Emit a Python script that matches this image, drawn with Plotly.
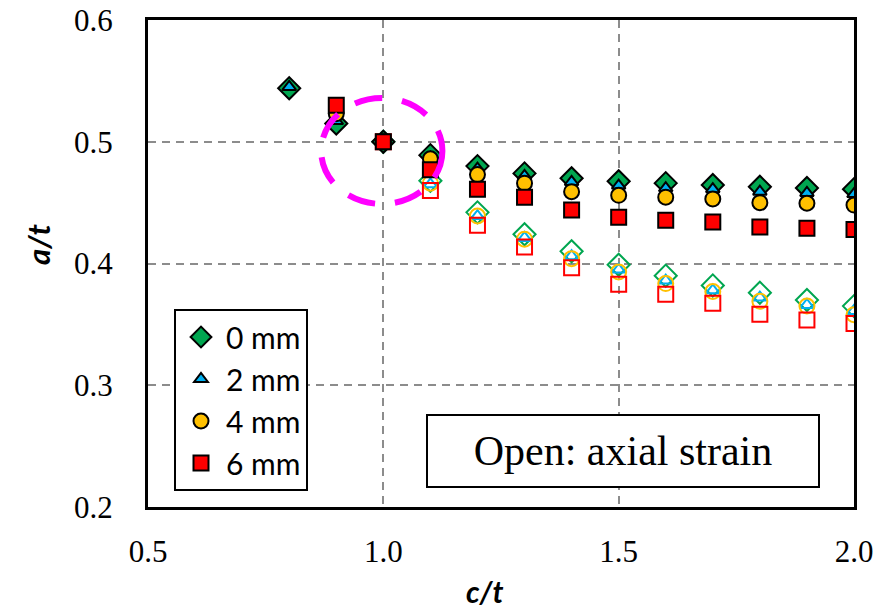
import plotly.graph_objects as go

# ---- data ----
ct_filled = [0.8, 0.9, 1.0, 1.1, 1.2, 1.3, 1.4, 1.5, 1.6, 1.7, 1.8, 1.9, 2.0]
at_0mm = [0.544, 0.515, 0.500, 0.489, 0.480, 0.474, 0.470, 0.4675, 0.466, 0.4645, 0.463, 0.462, 0.461]
at_2mm = [0.545, 0.517, 0.500, 0.487, 0.478, 0.472, 0.467, 0.464, 0.462, 0.461, 0.459, 0.458, 0.457]
at_4mm = [None, 0.523, 0.500, 0.486, 0.473, 0.466, 0.459, 0.456, 0.4545, 0.453, 0.450, 0.4495, 0.448]
at_6mm = [None, 0.530, 0.500, 0.477, 0.461, 0.4545, 0.444, 0.438, 0.4355, 0.434, 0.430, 0.429, 0.428]

ct_open = [1.0, 1.1, 1.2, 1.3, 1.4, 1.5, 1.6, 1.7, 1.8, 1.9, 2.0]
open_0mm = [0.500, 0.468, 0.442, 0.424, 0.410, 0.399, 0.390, 0.382, 0.376, 0.370, 0.365]
open_2mm = [0.500, 0.465, 0.439, 0.421, 0.406, 0.395, 0.386, 0.378, 0.372, 0.366, 0.361]
open_4mm = [0.500, 0.466, 0.439, 0.420, 0.404, 0.393, 0.3835, 0.377, 0.369, 0.365, 0.358]
open_6mm = [0.500, 0.460, 0.4315, 0.4135, 0.3966, 0.383, 0.3748, 0.3674, 0.3584, 0.3535, 0.3508]

series_names = ["0 mm", "2 mm", "4 mm", "6 mm"]
x_tickvals = [0.5, 1.0, 1.5, 2.0]
x_ticktext = ["0.5", "1.0", "1.5", "2.0"]
y_tickvals = [0.2, 0.3, 0.4, 0.5, 0.6]
y_ticktext = ["0.2", "0.3", "0.4", "0.5", "0.6"]

# ---- styles ----
colors = ["#00A650", "#00B0F0", "#FFC000", "#FF0000"]
symbols = ["diamond", "triangle-up", "circle", "square"]
sizes = [17, 12, 15, 15]
filled = [at_0mm, at_2mm, at_4mm, at_6mm]
opens = [open_0mm, open_2mm, open_4mm, open_6mm]

fig = go.Figure()

for i in range(4):
    fig.add_trace(go.Scatter(
        x=ct_open, y=opens[i], mode="markers", showlegend=False,
        marker=dict(symbol=symbols[i] + "-open", size=sizes[i], color=colors[i],
                    line=dict(color=colors[i], width=2)),
        hoverinfo="skip"))

for i in range(4):
    fig.add_trace(go.Scatter(
        x=ct_filled, y=filled[i], mode="markers", name=series_names[i],
        legendgroup=series_names[i],
        marker=dict(symbol=symbols[i], size=sizes[i], color=colors[i],
                    line=dict(color="black", width=2))))

fig.add_shape(type="circle", xref="x", yref="y",
              x0=0.868, x1=1.1255, y0=0.4489, y1=0.536,
              line=dict(color="#FF00FF", width=6, dash="28px,20px"))

fig.add_annotation(xref="paper", yref="paper", x=(623 - 148) / 706, y=(507 - 451) / 487,
                   xanchor="center", yanchor="middle",
                   text="Open: axial strain", showarrow=False,
                   font=dict(family="Liberation Serif", size=42, color="black"),
                   bgcolor="white", bordercolor="black", borderwidth=2,
                   width=388, height=68, borderpad=1)

fig.add_annotation(xref="paper", yref="paper", x=(484 - 148) / 706, y=(507 - 591) / 487,
                   text="<b><i>c/t</i></b>", showarrow=False,
                   font=dict(family="Lato", size=30, color="black"),
                   xanchor="center", yanchor="middle")
fig.add_annotation(xref="paper", yref="paper", x=(38 - 148) / 706, y=(507 - 245) / 487,
                   text="<b><i>a/t</i></b>", showarrow=False, textangle=-90,
                   font=dict(family="Lato", size=31, color="black"),
                   xanchor="center", yanchor="middle")

axis_common = dict(showline=True, mirror=True, linecolor="black", linewidth=3,
                   showgrid=True, gridcolor="#8C8C8C", gridwidth=2, griddash="8px,6px",
                   zeroline=False, ticks="", automargin=False,
                   tickfont=dict(family="Liberation Serif", size=31, color="black"))

fig.update_xaxes(range=[0.5, 2.0], tickvals=x_tickvals, ticktext=x_ticktext,
                 ticklabelstandoff=15, **axis_common)
fig.update_yaxes(range=[0.2, 0.6], tickvals=y_tickvals, ticktext=y_ticktext,
                 ticklabelstandoff=26, **axis_common)

fig.update_layout(
    width=880, height=613,
    margin=dict(l=148, r=26, t=20, b=106),
    paper_bgcolor="white", plot_bgcolor="white",
    showlegend=True,
    legend=dict(x=(174 - 148) / 706, y=(507 - 309) / 487, xanchor="left", yanchor="top",
                bgcolor="white", bordercolor="black", borderwidth=2,
                font=dict(family="Lato", size=30, color="black"),
                tracegroupgap=0, itemwidth=40),
)

fig.write_html("out.html")
